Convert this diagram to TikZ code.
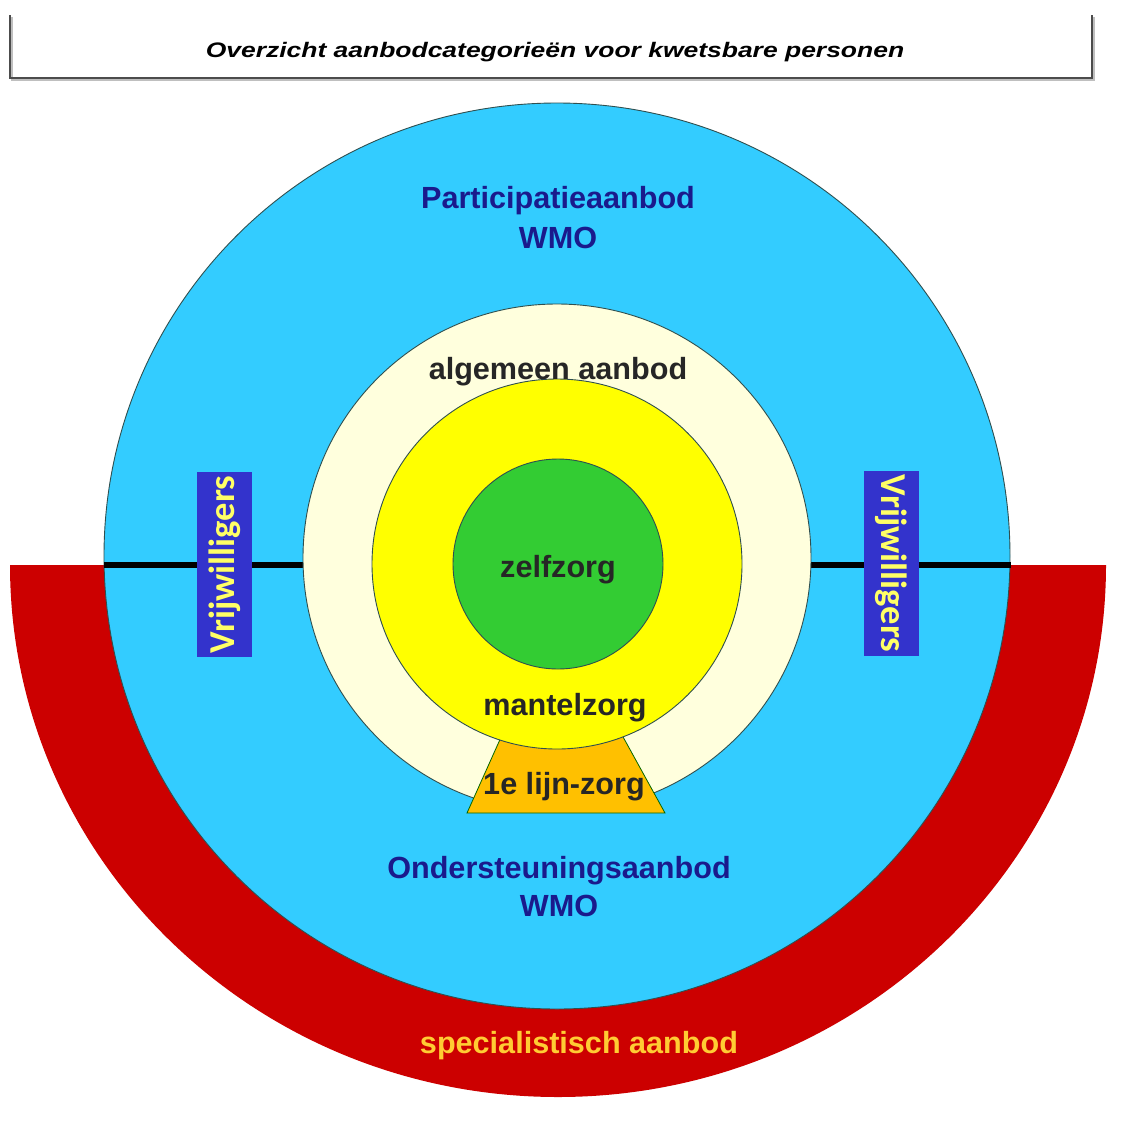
\documentclass[tikz,border=0pt]{standalone}
\usepackage{fontspec}
\setmainfont{Liberation Sans}
\newfontfamily\boxfont{Carlito}
\definecolor{blueC}{HTML}{33CCFF}
\definecolor{redC}{HTML}{CC0000}
\definecolor{creamC}{HTML}{FFFFDD}
\definecolor{yellowC}{HTML}{FFFF00}
\definecolor{greenC}{HTML}{33CC33}
\definecolor{orangeC}{HTML}{FFC000}
\definecolor{navyC}{HTML}{1A1A8C}
\definecolor{boxC}{HTML}{3333CC}
\definecolor{lightyC}{HTML}{FFFF66}
\definecolor{goldC}{HTML}{FFCC33}
\definecolor{outC}{HTML}{2F4F4F}
\begin{document}
\begin{tikzpicture}[x=1pt,y=-1pt,
  ring/.style={draw=outC,line width=0.9pt},
  lbl/.style={font=\fontsize{30.6}{34}\selectfont\bfseries,anchor=base,inner sep=0pt},
  vbox/.style={fill=boxC,text=lightyC,inner sep=0pt,minimum width=185pt,minimum height=55pt,
     font=\boxfont\fontsize{36.5}{38}\selectfont\bfseries}]
\useasboundingbox (0,0) rectangle (1121,1133);
\fill[white] (0,0) rectangle (1121,1133);
% title box
\draw[black!25,line width=2pt] (12,17) -- (12,80) -- (1094,80) -- (1094,17);
\draw[black!70,line width=1.4pt] (10,15) -- (10,78) -- (1092,78) -- (1092,15);
\node[font=\fontsize{21}{24}\selectfont\bfseries\itshape,xscale=1.26,anchor=base,inner sep=0pt] (title) at (555,57) {Overzicht aanbodcategorieën voor kwetsbare personen};
% red half ring
\begin{scope}
\clip (0,565) rectangle (1121,1133);
\fill[redC] (558,565) ellipse [x radius=548, y radius=532];
\end{scope}
% blue circle
\filldraw[fill=blueC,ring] (557,556) circle [radius=453];
% horizontal line
\coordinate (lineL) at (104,565);
\coordinate (lineR) at (1011,565);
\draw[black,line width=5.5pt] (lineL) -- (lineR);
% cream circle
\filldraw[fill=creamC,ring] (557,558) circle [radius=254];
% trapezoid
\filldraw[fill=orangeC,draw=black!60!green,line width=0.8pt] (467,813) -- (665,813) -- (622,735) -- (502,735) -- cycle;
% yellow circle
\filldraw[fill=yellowC,ring] (557,564) circle [radius=185];
% green circle
\filldraw[fill=greenC,ring] (558,564) circle [radius=105];
% labels
\node[lbl,text=navyC] (part) at (558,208) {Participatieaanbod};
\node[lbl,text=navyC] (wmo1) at (558,248) {WMO};
\node[lbl,text=black!85] (alg) at (558,379) {algemeen aanbod};
\node[lbl,text=black!85] (zelf) at (558,577) {zelfzorg};
\node[lbl,text=black!85] (mant) at (565,715) {mantelzorg};
\node[lbl,text=black!85] (lijn) at (564,794) {1e lijn-zorg};
\node[lbl,text=navyC] (onder) at (559,878) {Ondersteuningsaanbod};
\node[lbl,text=navyC] (wmo2) at (559,916) {WMO};
\node[lbl,text=goldC] (spec) at (579,1053) {specialistisch aanbod};
% Vrijwilligers
\node[vbox,rotate=90] (vl) at (224.5,564.5) {Vrijwilligers};
\node[vbox,rotate=-90] (vr) at (891,563.5) {Vrijwilligers};
\end{tikzpicture}
\end{document}
